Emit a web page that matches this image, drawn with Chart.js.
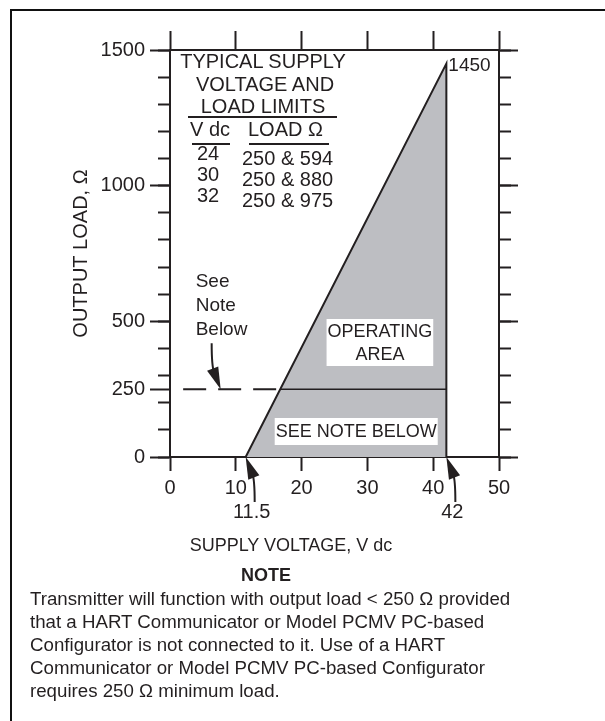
<!DOCTYPE html>
<html>
<head>
<meta charset="utf-8">
<script src="https://cdn.jsdelivr.net/npm/chart.js@4.4.1/dist/chart.umd.min.js"></script>
<style>
  html, body { margin: 0; padding: 0; background: #fff; overflow: hidden; }
  body {
    width: 605px; height: 721px; position: relative;
    font-family: "Liberation Sans", Arial, sans-serif; color: #231f20;
  }
  .edge { position: absolute; background: #111; }
  #chart { position: absolute; left: 0; top: 0; }
  .t { position: absolute; white-space: nowrap; line-height: 1; }
  .c { width: 240px; text-align: center; }
  .tbl { font-size: 20px; }
  .rule { position: absolute; height: 2px; background: #231f20; }
  #xTitle { font-size: 18px; }
  #noteHead { font-size: 18px; font-weight: bold; }
  #noteBody {
    position: absolute; left: 30px; top: 587px; font-size: 18.7px; line-height: 23px;
    white-space: nowrap;
  }
</style>
</head>
<body>
<div class="edge" style="left:10px; top:9px; width:595px; height:2px;"></div>
<div class="edge" style="left:10px; top:9px; width:2px; height:712px;"></div>
<canvas id="chart" width="605" height="721"></canvas>

<div class="t c tbl" style="left:143px; top:51px;">TYPICAL SUPPLY</div>
<div class="t c tbl" style="left:145px; top:74px;">VOLTAGE AND</div>
<div class="t c tbl" style="left:143px; top:96px;">LOAD LIMITS</div>
<div class="rule" style="left:188px; top:116px; width:149px;"></div>
<div class="t tbl" style="left:190px; top:119px;">V dc</div>
<div class="rule" style="left:192px; top:143px; width:38px;"></div>
<div class="t tbl" style="left:248px; top:119px;">LOAD Ω</div>
<div class="rule" style="left:249px; top:143px; width:80px;"></div>
<div id="limitRows"></div>

<div id="xTitle" class="t c" style="left:171px; top:536px;">SUPPLY VOLTAGE, V dc</div>
<div id="noteHead" class="t c" style="left:146px; top:566px;">NOTE</div>
<div id="noteBody">
  Transmitter will function with output load &lt; 250 Ω provided<br>
  that a HART Communicator or Model PCMV PC-based<br>
  Configurator is not connected to it. Use of a HART<br>
  Communicator or Model PCMV PC-based Configurator<br>
  requires 250 Ω minimum load.
</div>

<script>
// table of typical limits
const limitVolts = ['24', '30', '32'];
const limitLoads = ['250 & 594', '250 & 880', '250 & 975'];

// axes
const xTicks = [0, 10, 20, 30, 40, 50];
const yLabelTicks = [0, 250, 500, 1000, 1500];
const yRightMajor = [0, 500, 1000, 1500];
const yMinorTicks = [0, 100, 200, 300, 400, 500, 600, 700, 800, 900, 1000, 1100, 1200, 1300, 1400, 1500];

// operating area (supply V, load ohm)
const areaX = [11.5, 42, 42];
const areaY = [0, 1450, 0];
const limitX = [16.8, 42];
const limitY = [250, 250];
const dashX = [2, 16.8];
const dashY = [250, 250];
const markerValues = [11.5, 42];
const peakLabel = '1450';

const INK = '#231f20';
const FONT = '"Liberation Sans", Arial, sans-serif';

const rowsEl = document.getElementById('limitRows');
let rowsHtml = '';
limitVolts.forEach((v, i) => {
  rowsHtml += `<div class="t tbl" style="left:197px; top:${143 + i * 21}px;">${v}</div>`;
  rowsHtml += `<div class="t tbl" style="left:242px; top:${148 + i * 21}px;">${limitLoads[i]}</div>`;
});
rowsEl.innerHTML = rowsHtml;

function toPoints(xs, ys) {
  return xs.map((x, i) => ({ x, y: ys[i] }));
}

function fixedTicks(values) {
  return (axis) => { axis.ticks = values.map(v => ({ value: v })); };
}

function drawArrow(ctx, tipX, tipY, dx, dy) {
  const tailX = tipX + dx, tailY = tipY + dy;
  const ctrlX = tailX, ctrlY = tipY + dy * 0.5;
  let vx = tipX - ctrlX, vy = tipY - ctrlY;
  const len = Math.hypot(vx, vy);
  vx /= len; vy /= len;
  const baseX = tipX - vx * 22, baseY = tipY - vy * 22;
  ctx.beginPath();
  ctx.moveTo(tailX, tailY);
  ctx.quadraticCurveTo(ctrlX, ctrlY, baseX + vx * 4, baseY + vy * 4);
  ctx.stroke();
  ctx.beginPath();
  ctx.moveTo(tipX, tipY);
  ctx.lineTo(baseX - vy * 6, baseY + vx * 6);
  ctx.lineTo(baseX + vy * 6, baseY - vx * 6);
  ctx.closePath();
  ctx.fill();
}

const boxNotes = [
  { lines: ['OPERATING', 'AREA'], x: 31.9, y: 422 },
  { lines: ['SEE NOTE BELOW'], x: 28.3, y: 94 },
];
const sideNote = { lines: ['See', 'Note', 'Below'], x: 3.9, y: 627 };
const sideArrowAt = { x: 7.7, y: 250 };

const notesPlugin = {
  id: 'notes',
  afterDatasetsDraw(chart) {
    const { ctx } = chart;
    const xs = chart.scales.x, ys = chart.scales.y;
    ctx.save();
    ctx.fillStyle = INK;
    ctx.strokeStyle = INK;
    ctx.lineWidth = 2;

    ctx.font = `18px ${FONT}`;
    ctx.textAlign = 'center';
    ctx.textBaseline = 'alphabetic';
    for (const note of boxNotes) {
      const cx = xs.getPixelForValue(note.x);
      const cy = ys.getPixelForValue(note.y);
      const w = Math.max(...note.lines.map(l => ctx.measureText(l).width)) + 2;
      const h = note.lines.length * 20 + 7;
      ctx.fillStyle = '#fff';
      ctx.fillRect(cx - w / 2, cy - h / 2, w, h);
      ctx.fillStyle = INK;
      note.lines.forEach((line, i) => {
        ctx.fillText(line, cx, cy + (i - (note.lines.length - 1) / 2) * 23 + 6);
      });
    }

    ctx.font = `19px ${FONT}`;
    ctx.textAlign = 'left';
    ctx.fillText(peakLabel, xs.getPixelForValue(areaX[1]) + 2, ys.getPixelForValue(areaY[1]) + 7);

    const sx = xs.getPixelForValue(sideNote.x);
    const sy = ys.getPixelForValue(sideNote.y);
    sideNote.lines.forEach((line, i) => ctx.fillText(line, sx, sy + i * 24));

    drawArrow(ctx, xs.getPixelForValue(sideArrowAt.x), ys.getPixelForValue(sideArrowAt.y), -9, -46);

    ctx.font = `20px ${FONT}`;
    ctx.textAlign = 'center';
    for (const v of markerValues) {
      const px = xs.getPixelForValue(v);
      const py = ys.getPixelForValue(0);
      drawArrow(ctx, px, py, 9, 45);
      ctx.fillText(String(v), px + 6, py + 61);
    }
    ctx.restore();
  },
};

const tickFont = { family: FONT, size: 20 };
const plainLabel = (v) => String(v);

new Chart(document.getElementById('chart'), {
  type: 'line',
  data: {
    datasets: [
      {
        data: toPoints(areaX, areaY),
        borderColor: INK,
        borderWidth: 2,
        backgroundColor: '#bdbec2',
        fill: 'origin',
        pointRadius: 0,
        tension: 0,
        order: 3,
      },
      {
        data: toPoints(limitX, limitY),
        borderColor: INK,
        borderWidth: 1.5,
        pointRadius: 0,
        fill: false,
        order: 1,
      },
      {
        data: toPoints(dashX, dashY),
        borderColor: INK,
        borderWidth: 2,
        borderDash: [23, 12],
        pointRadius: 0,
        fill: false,
        order: 1,
      },
    ],
  },
  options: {
    responsive: false,
    animation: false,
    events: [],
    layout: { padding: { left: 11, right: 87, top: 31, bottom: 204 } },
    plugins: { legend: { display: false }, tooltip: { enabled: false } },
    scales: {
      x: {
        type: 'linear', position: 'bottom', min: 0, max: 50, z: 1,
        afterBuildTicks: fixedTicks(xTicks),
        afterFit: (s) => { s.height = 60; },
        ticks: { color: INK, font: tickFont, padding: 5, maxRotation: 0, callback: plainLabel },
        grid: { drawOnChartArea: false, tickLength: 14, tickWidth: 2, tickColor: INK },
        border: { color: INK, width: 2 },
      },
      x2: {
        type: 'linear', position: 'top', min: 0, max: 50, z: 1,
        afterBuildTicks: fixedTicks(xTicks),
        afterFit: (s) => { s.height = 19; },
        ticks: { display: false },
        grid: { drawOnChartArea: false, tickLength: 19, tickWidth: 2, tickColor: INK },
        border: { color: INK, width: 2 },
      },
      y: {
        type: 'linear', position: 'left', min: 0, max: 1500, weight: 1, z: 1,
        afterBuildTicks: fixedTicks(yLabelTicks),
        afterFit: (s) => { s.width = 159; },
        ticks: { color: INK, font: tickFont, padding: 5, callback: plainLabel },
        grid: { drawOnChartArea: false, tickLength: 20, tickWidth: 2, tickColor: INK },
        border: { color: INK, width: 2 },
        title: {
          display: true, text: 'OUTPUT LOAD, Ω', color: INK,
          font: { family: FONT, size: 20 }, padding: { top: 58, bottom: 0 },
        },
      },
      yMinor: {
        type: 'linear', position: 'left', min: 0, max: 1500, weight: 0, z: 1,
        afterBuildTicks: fixedTicks(yMinorTicks),
        afterFit: (s) => { s.width = 0; },
        ticks: { display: false },
        grid: { drawOnChartArea: false, tickLength: 12, tickWidth: 2, tickColor: INK },
        border: { display: false },
      },
      y2: {
        type: 'linear', position: 'right', min: 0, max: 1500, weight: 1, z: 1,
        afterBuildTicks: fixedTicks(yRightMajor),
        afterFit: (s) => { s.width = 19; },
        ticks: { display: false },
        grid: { drawOnChartArea: false, tickLength: 19, tickWidth: 2, tickColor: INK },
        border: { color: INK, width: 2 },
      },
      y2Minor: {
        type: 'linear', position: 'right', min: 0, max: 1500, weight: 0, z: 1,
        afterBuildTicks: fixedTicks(yMinorTicks),
        afterFit: (s) => { s.width = 0; },
        ticks: { display: false },
        grid: { drawOnChartArea: false, tickLength: 12, tickWidth: 2, tickColor: INK },
        border: { display: false },
      },
    },
  },
  plugins: [notesPlugin],
});
</script>
</body>
</html>
